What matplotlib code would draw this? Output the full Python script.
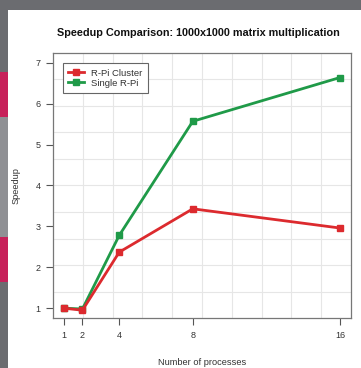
import matplotlib
matplotlib.use("Agg")
import matplotlib.pyplot as plt
from matplotlib.patches import Rectangle
from matplotlib.lines import Line2D
import numpy as np

plt.rcParams['font.family'] = ['Liberation Sans', 'DejaVu Sans']

# Speedup measured for a 1000x1000 matrix multiplication
processes = [1, 2, 4, 8, 16]
cluster_speedup = [1.0, 0.95, 2.37, 3.43, 2.96]
single_speedup = [1.0, 0.98, 2.78, 5.57, 6.64]
series_names = ["R-Pi Cluster", "Single R-Pi"]
y_ticks = [1, 2, 3, 4, 5, 6, 7]

RED = "#dc2a2e"
GREEN = "#1f9a48"
DARK = "#6b6c70"

W, H = 361, 368
fig = plt.figure(figsize=(W / 100, H / 100), dpi=100, facecolor=DARK)

# page frame: white panel with a side strip of coloured blocks
def fig_rect(x0, y0, x1, y1, color):
    fig.patches.append(Rectangle((x0 / W, 1 - y1 / H), (x1 - x0) / W, (y1 - y0) / H,
                                 transform=fig.transFigure, facecolor=color,
                                 edgecolor="none", zorder=-10))

fig_rect(8, 10, W, H, "white")
fig_rect(0, 72, 8, 117, "#c7215a")
fig_rect(0, 117, 8, 237, "#8f9094")
fig_rect(0, 237, 8, 282, "#c7215a")

ax = fig.add_axes([53 / W, 1 - 318 / H, (351 - 53) / W, (318 - 53) / H])
ax.set_zorder(1)
ax.set_facecolor("white")

xmin, xmax = min(processes), max(processes)
ymin, ymax = 1, 7
xpad = 0.04 * (xmax - xmin)
ypad = 0.04 * (ymax - ymin)
x_lim = (xmin - xpad, xmax + xpad)
y_lim = (ymin - ypad, ymax + ypad)
ax.set_xlim(*x_lim)
ax.set_ylim(*y_lim)

# 10 x 10 grid over the plotting region
for gx in np.linspace(*x_lim, 11)[1:-1]:
    ax.axvline(gx, color="#e6e6e6", lw=0.8, zorder=1)
for gy in np.linspace(*y_lim, 11)[1:-1]:
    ax.axhline(gy, color="#e6e6e6", lw=0.8, zorder=1)

ax.plot(processes, single_speedup, color=GREEN, lw=2.0, marker="s", ms=5,
        zorder=3, label=series_names[1])
ax.plot(processes, cluster_speedup, color=RED, lw=2.0, marker="s", ms=5,
        zorder=4, label=series_names[0])

ax.set_xticks(processes)
ax.set_yticks(y_ticks)
ax.tick_params(axis="both", labelsize=6.5, color="#555555", labelcolor="#333333",
               length=5, width=0.8, pad=4)
for s in ax.spines.values():
    s.set_color("#777777")
    s.set_linewidth(0.9)

ax.set_title("Speedup Comparison: 1000x1000 matrix multiplication",
             fontsize=7.8, fontweight="bold", color="#111111", pad=12, x=0.488)
ax.set_xlabel("Number of processes", fontsize=6.7, color="#333333", labelpad=13)
ax.set_ylabel("Speedup", fontsize=6.7, color="#333333", labelpad=11)

handles = [Line2D([], [], color=RED, lw=2.0, marker="s", ms=4),
           Line2D([], [], color=GREEN, lw=2.0, marker="s", ms=4)]
leg = ax.legend(handles, series_names, loc="upper left",
                bbox_to_anchor=(9.5 / 298, 1 - 10 / 265), fontsize=6.8,
                frameon=True, fancybox=False, framealpha=1, edgecolor="#666666",
                handlelength=1.7, handletextpad=0.7, borderpad=0.6,
                labelspacing=0.1, borderaxespad=0)
leg.get_frame().set_linewidth(0.8)
for t in leg.get_texts():
    t.set_color("#333333")

fig.savefig("out.png", dpi=100, facecolor=DARK)
